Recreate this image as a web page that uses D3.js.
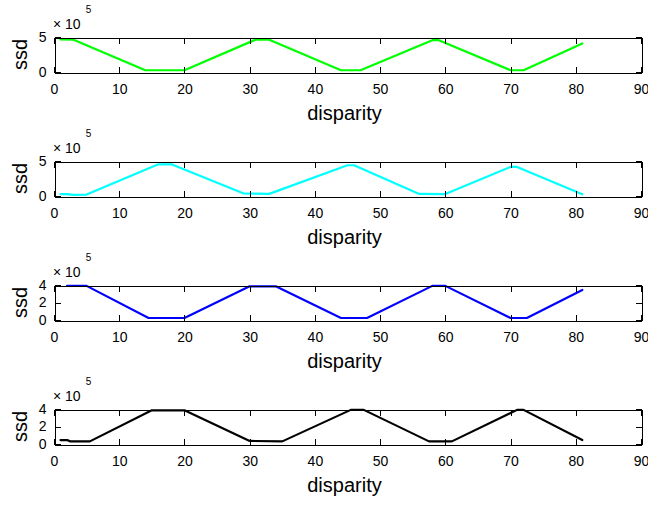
<!DOCTYPE html>
<html>
<head>
<meta charset="utf-8">
<script src="https://cdn.jsdelivr.net/npm/d3@7/dist/d3.min.js"></script>
<style>
  body { margin: 0; background: #fff; }
  svg { display: block; }
  text { font-family: "Liberation Sans", Arial, Helvetica, sans-serif; fill: #000; }
</style>
</head>
<body>
<svg id="chart" width="648" height="505"></svg>
<script>
// Shared axis ticks
const disparityTicks = [0, 10, 20, 30, 40, 50, 60, 70, 80, 90];
const ssdTicksFive = [0, 500000];
const ssdTicksFour = [0, 200000, 400000];
const ssdExponent = 5;

// SSD curves against disparity (breakpoints of each piecewise curve)
const greenDisparity = [1, 3, 14, 20, 31, 33, 44, 47, 58, 59, 70, 72, 81];
const greenSsd = [466000, 462000, 25000, 25000, 466000, 462000, 25000, 25000, 455000, 455000, 25000, 25000, 407000];

const cyanDisparity = [1, 2, 3, 5, 16, 18, 29, 33, 45, 46, 56, 60, 70, 71, 81];
const cyanSsd = [28000, 28000, 15000, 20000, 453000, 453000, 38000, 30000, 439000, 439000, 30000, 28000, 415000, 415000, 24000];

const blueDisparity = [2, 5, 14.5, 20, 30, 34, 44, 48, 58, 60, 70, 72.5, 81];
const blueSsd = [390000, 390000, 23000, 23000, 385000, 385000, 23000, 23000, 390000, 390000, 23000, 23000, 343000];

const blackDisparity = [1, 2, 2.5, 5.5, 15, 20, 30, 35, 45.5, 47.5, 57.5, 61, 71, 72, 81];
const blackSsd = [45000, 45000, 30000, 30000, 385000, 385000, 35000, 30000, 390000, 390000, 30000, 30000, 390000, 390000, 45000];

const panels = [
  { xs: greenDisparity, ys: greenSsd, color: "#00ff00", yMax: 500000, yTicks: ssdTicksFive },
  { xs: cyanDisparity,  ys: cyanSsd,  color: "#00ffff", yMax: 500000, yTicks: ssdTicksFive },
  { xs: blueDisparity,  ys: blueSsd,  color: "#0000ff", yMax: 400000, yTicks: ssdTicksFour },
  { xs: blackDisparity, ys: blackSsd, color: "#000000", yMax: 400000, yTicks: ssdTicksFour }
];

const svg = d3.select("#chart");
const plotLeft = 54, plotRight = 641, plotH = 35;
const plotTops = [37, 161, 285, 409];

const x = d3.scaleLinear().domain([0, 90]).range([plotLeft, plotRight]);

panels.forEach((p, i) => {
  const top = plotTops[i], bottom = top + plotH;
  const y = d3.scaleLinear().domain([0, p.yMax]).range([bottom, top]);
  const g = svg.append("g");

  // data line
  const pts = p.xs.map((d, k) => [d, p.ys[k]]);
  g.append("path")
    .datum(pts)
    .attr("fill", "none")
    .attr("stroke", p.color)
    .attr("stroke-width", 2.2)
    .attr("stroke-linejoin", "round")
    .attr("stroke-linecap", "round")
    .attr("d", d3.line().x(d => x(d[0])).y(d => y(d[1])));

  const fmtY = d => String(d / Math.pow(10, ssdExponent));

  // box with inward ticks on all four sides
  const axB = g.append("g").attr("transform", `translate(0,${bottom + 0.5})`)
    .call(d3.axisBottom(x).tickValues(disparityTicks).tickSizeInner(-6).tickSizeOuter(0).tickPadding(12));
  const axT = g.append("g").attr("transform", `translate(0,${top + 0.5})`)
    .call(d3.axisTop(x).tickValues(disparityTicks).tickSizeInner(-6).tickSizeOuter(0).tickFormat(""));
  const axL = g.append("g").attr("transform", `translate(${plotLeft + 0.5},0)`)
    .call(d3.axisLeft(y).tickValues(p.yTicks).tickSizeInner(-6).tickSizeOuter(0).tickPadding(8).tickFormat(fmtY));
  const axR = g.append("g").attr("transform", `translate(${plotRight + 0.5},0)`)
    .call(d3.axisRight(y).tickValues(p.yTicks).tickSizeInner(-6).tickSizeOuter(0).tickFormat(""));

  [axB, axT, axL, axR].forEach(a => {
    a.selectAll("path, line").attr("stroke", "#000").attr("shape-rendering", "crispEdges");
    a.selectAll("text").attr("font-size", 14).attr("font-family", null).attr("fill", "#000");
  });

  // exponent marker
  const ex = g.append("text").attr("x", 53).attr("y", top - 8.5).attr("font-size", 14);
  ex.append("tspan").text("\u00d7 10");
  ex.append("tspan").attr("dx", 5).attr("dy", -16).attr("font-size", 10).text(ssdExponent);

  // axis titles
  g.append("text")
    .attr("transform", `translate(27,${top + plotH / 2}) rotate(-90)`)
    .attr("text-anchor", "middle")
    .attr("font-size", 20)
    .text("ssd");
  g.append("text")
    .attr("x", (plotLeft + plotRight) / 2 - 3)
    .attr("y", bottom + 47.5)
    .attr("text-anchor", "middle")
    .attr("font-size", 20)
    .text("disparity");
});
</script>
</body>
</html>
